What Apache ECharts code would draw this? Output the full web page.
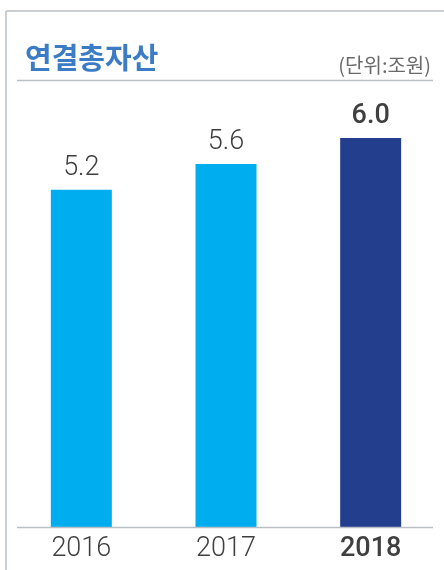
<!DOCTYPE html>
<html>
<head>
<meta charset="utf-8">
<script src="https://cdn.jsdelivr.net/npm/echarts@6/dist/echarts.min.js"></script>
<style>
html,body{margin:0;padding:0;background:#fff;}
#chart{width:444px;height:570px;}
</style>
</head>
<body>
<div id="chart"></div>
<script>
const titleText = '연결총자산';
const unitText = '(단위:조원)';
const categories = ['2016', '2017', '2018'];
const values = [5.2, 5.6, 6.0];
const highlightIndex = 2;

const lightColor = '#00aeef';
const darkColor = '#243e8e';
const textColor = '#3f3f3f';
const lineColor = '#b9bfc5';
const numFont = 'Roboto';

const chart = echarts.init(document.getElementById('chart'));
chart.setOption({
  animation: false,
  title: [
    { text: titleText, left: 20, top: 38,
      textStyle: { fontFamily: 'Noto Sans CJK KR', fontSize: 29, fontWeight: 'bold', color: '#3b7cc4' } },
    { text: unitText, right: 8, top: 50,
      textStyle: { fontFamily: 'Noto Sans CJK KR', fontSize: 20, fontWeight: 'normal', color: '#6a6a6a' } }
  ],
  grid: { left: 9, right: 1, top: 138, bottom: 43 },
  xAxis: {
    type: 'category',
    data: categories,
    axisLine: { show: false },
    axisTick: { show: false },
    axisLabel: {
      margin: 9,
      fontFamily: numFont,
      fontSize: 27,
      fontWeight: 300,
      color: textColor,
      formatter: function (v, i) { return i === highlightIndex ? '{b|' + v + '}' : v; },
      rich: { b: { fontFamily: numFont, fontSize: 27, fontWeight: 500, color: textColor } }
    }
  },
  yAxis: { type: 'value', min: 0, max: 6, show: false },
  graphic: [
    { type: 'line', shape: { x1: 6, y1: 11, x2: 444, y2: 11 }, style: { stroke: lineColor, lineWidth: 1.5 } },
    { type: 'line', shape: { x1: 6, y1: 11, x2: 6, y2: 570 }, style: { stroke: lineColor, lineWidth: 1.5 } },
    { type: 'line', shape: { x1: 17, y1: 80.5, x2: 433, y2: 80.5 }, style: { stroke: lineColor, lineWidth: 1.5 } },
    { type: 'line', shape: { x1: 17, y1: 527.5, x2: 433, y2: 527.5 }, style: { stroke: lineColor, lineWidth: 1.5 }, z: 100 }
  ],
  series: [{
    type: 'bar',
    barWidth: 61,
    data: values.map(function (v, i) {
      return {
        value: v,
        itemStyle: { color: i === highlightIndex ? darkColor : lightColor },
        label: i === highlightIndex ? { fontWeight: 500 } : {}
      };
    }),
    label: {
      show: true,
      position: 'top',
      distance: 8,
      fontFamily: numFont,
      fontSize: 27,
      fontWeight: 300,
      color: textColor,
      formatter: function (p) { return p.value.toFixed(1); }
    }
  }]
});
</script>
</body>
</html>
